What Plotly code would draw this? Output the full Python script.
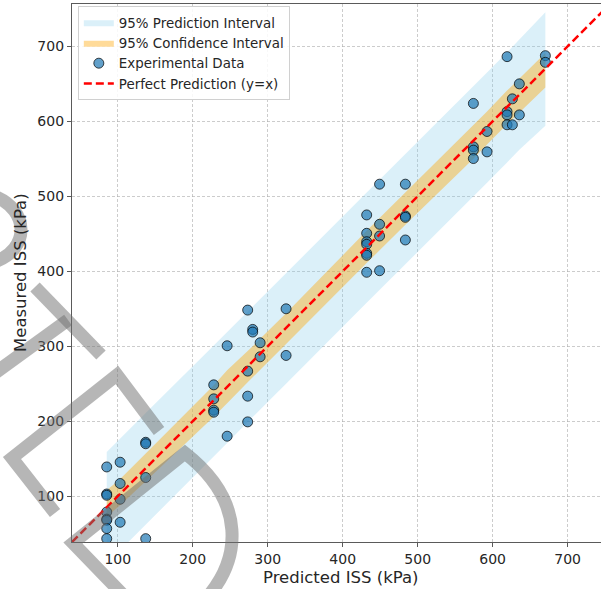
import plotly.graph_objects as go

# ---------------- data ----------------
predicted = [85.3, 85.3, 85.3, 85.3, 85.3, 85.3, 85.3, 85.3,
             103.2, 103.2, 103.2, 103.2,
             137.3, 137.3, 137.3, 137.3,
             228.0, 228.0, 228.0, 228.0,
             245.9, 245.9,
             273.3, 273.3, 273.3, 273.3,
             280.0, 280.0,
             289.9, 289.9,
             324.5, 324.5,
             432.0, 432.0, 432.0, 432.0, 432.0, 432.0, 432.0,
             449.2, 449.2, 449.2, 449.2,
             483.6, 483.6, 483.6, 483.6,
             574.3, 574.3, 574.3, 574.3,
             592.5, 592.5,
             619.2, 619.2, 619.2, 619.2,
             626.3, 626.3,
             635.6, 635.6,
             670.3, 670.3]
measured = [139.1, 103.0, 101.3, 79.0, 69.5, 68.0, 57.0, 43.5,
            145.4, 117.0, 96.0, 65.3,
            172.0, 170.0, 125.0, 43.5,
            248.6, 229.9, 214.8, 212.1,
            300.7, 180.1,
            348.3, 266.9, 233.5, 199.2,
            322.5, 319.0,
            304.7, 286.0,
            350.0, 287.8,
            475.2, 450.7, 439.5, 436.0, 424.0, 421.4, 398.7,
            516.2, 462.7, 447.1, 400.8,
            516.2, 473.8, 472.0, 441.8,
            623.9, 566.0, 561.6, 550.4,
            586.5, 559.3,
            686.3, 613.0, 608.6, 595.4,
            630.0, 595.4,
            650.0, 608.6,
            687.6, 678.7]

band_x = [85.3, 103.2, 137.3, 228.0, 245.9, 273.3, 280.0, 289.9, 324.5,
          432.0, 449.2, 483.6, 574.3, 592.5, 619.2, 626.3, 635.6, 670.3]
pi_upper = [159, 177, 211, 301, 319, 346, 353, 363, 397,
            505, 522, 556, 647, 665, 692, 699, 709, 745.5]
pi_lower = [10, 28, 62, 153, 171, 199, 206, 216, 250,
            358, 376, 410, 500, 518, 545, 552, 562, 594]
ci_upper = [108, 123, 157, 248, 268, 293, 300, 310, 344,
            454, 471, 505, 594, 613, 641, 648, 658, 691]
ci_lower = [73, 88, 120, 206, 224, 252, 259, 269, 303,
            411, 428, 462, 550, 569, 596, 603, 612, 645]

axis_lim = [39.0, 756.5]
x_ticks = [100, 200, 300, 400, 500, 600, 700]
y_ticks = [100, 200, 300, 400, 500, 600, 700]

# ---------------- figure ----------------
W, H = 601, 589
ML, MR, MT, MB = 72, 0, 4, 47
plot_w = W - ML - MR
plot_h = H - MT - MB
scale = plot_h / (axis_lim[1] - axis_lim[0])
x_range = [axis_lim[0], axis_lim[0] + plot_w / scale]

fig = go.Figure()

fig.add_trace(go.Scatter(
    x=band_x + band_x[::-1], y=pi_upper + pi_lower[::-1],
    fill="toself", fillcolor="rgba(135,206,235,0.3)",
    line=dict(width=0), mode="lines", name="95% Prediction Interval",
    hoverinfo="skip"))
fig.add_trace(go.Scatter(
    x=band_x + band_x[::-1], y=ci_upper + ci_lower[::-1],
    fill="toself", fillcolor="rgba(255,165,0,0.4)",
    line=dict(width=0), mode="lines", name="95% Confidence Interval",
    hoverinfo="skip"))
fig.add_trace(go.Scatter(
    x=predicted, y=measured, mode="markers", name="Experimental Data",
    marker=dict(size=10, color="rgba(31,119,180,0.7)",
                line=dict(color="rgba(0,0,0,0.7)", width=1))))
fig.add_trace(go.Scatter(
    x=axis_lim, y=axis_lim, mode="lines", name="Perfect Prediction (y=x)",
    line=dict(color="red", width=2.5, dash="8px,4px")))

# ---------------- watermark overlay (pixel coords -> paper) ----------------
def P(px, py):
    return (px - ML) / plot_w, (H - MB - py) / plot_h

def path(cmds):
    out = []
    for c in cmds:
        op, pts = c[0], c[1:]
        coords = " ".join("%.4f,%.4f" % P(*p) for p in pts)
        out.append(op + " " + coords)
    return " ".join(out)

wm_style = dict(type="path", xref="paper", yref="paper", layer="above",
                line=dict(color="rgba(110,110,110,0.5)", width=13))
wm_paths = [
    [("M", (-6, 196)), ("C", (30, 210), (30, 250), (-6, 262))],
    [("M", (35, 287)), ("L", (101, 355))],
    [("M", (-5, 373)), ("L", (68, 320))],
    [("M", (159, 431)), ("L", (117, 375)), ("L", (12, 458)), ("L", (55, 513))],
    [("M", (128, 600)), ("L", (73, 543)), ("L", (185, 453)),
     ("C", (245, 500), (245, 560), (200, 605))],
]
shapes = [dict(path=path(p), **wm_style) for p in wm_paths]

axis_common = dict(
    showline=True, linecolor="#5a5a5a", linewidth=1.3,
    ticks="outside", ticklen=4, tickcolor="#5a5a5a", tickwidth=1,
    showgrid=True, gridcolor="rgba(170,170,170,0.6)", gridwidth=0.8,
    griddash="3px,2px", zeroline=False, automargin=False,
    tickfont=dict(family="DejaVu Sans", size=14, color="#262626"),
)

title_font = dict(family="DejaVu Sans", size=16.5, color="#262626")
xt = P(341, 577)
yt = P(20, 273)
annotations = [
    dict(text="Predicted ISS (kPa)", xref="paper", yref="paper",
         x=xt[0], y=xt[1], xanchor="center", yanchor="middle",
         showarrow=False, font=title_font),
    dict(text="Measured ISS (kPa)", xref="paper", yref="paper",
         x=yt[0], y=yt[1], xanchor="center", yanchor="middle",
         textangle=-90, showarrow=False, font=title_font),
]

fig.update_layout(
    width=W, height=H, autosize=False,
    margin=dict(l=ML, r=MR, t=MT, b=MB, pad=0, autoexpand=False),
    paper_bgcolor="white", plot_bgcolor="white",
    font=dict(family="DejaVu Sans", color="#262626"),
    xaxis=dict(range=x_range, tickvals=x_ticks, mirror=True, **axis_common),
    yaxis=dict(range=axis_lim, tickvals=y_ticks, mirror=False, **axis_common),
    legend=dict(x=0.011, y=0.996, xanchor="left", yanchor="top",
                bgcolor="rgba(255,255,255,0.85)", bordercolor="#d0d0d0",
                borderwidth=1, font=dict(family="DejaVu Sans", size=13.4, color="#262626"),
                tracegroupgap=0, itemwidth=30),
    showlegend=True,
    shapes=shapes,
    annotations=annotations,
)

fig.write_html("out.html",
               config={"displayModeBar": False},
               post_script="document.body.style.margin='0';"
                           "document.body.style.overflow='hidden';")
